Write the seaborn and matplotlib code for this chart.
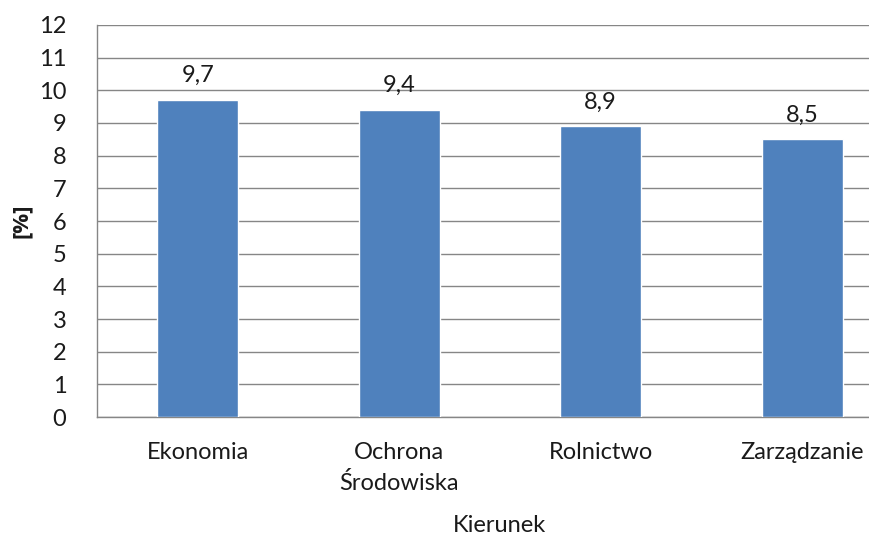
import matplotlib
matplotlib.use("Agg")
import matplotlib.pyplot as plt
import pandas as pd
import seaborn as sns

categories = ["Ekonomia", "Ochrona\nŚrodowiska", "Rolnictwo", "Zarządzanie"]
values = [9.7, 9.4, 8.9, 8.5]
value_labels = ["9,7", "9,4", "8,9", "8,5"]

sns.set_theme(style="white")
plt.rcParams["font.family"] = ["Lato", "DejaVu Sans"]

df = pd.DataFrame({"Kierunek": categories, "val": values})

fig = plt.figure(figsize=(8.7, 5.36), dpi=100)
# plot area runs past the right edge, as in the cropped original
ax = fig.add_axes([97 / 870, (536 - 417) / 536, 806 / 870, 392 / 536])

grid_col = "#868686"
txt_col = "#1a1a1a"
fs = 17

sns.barplot(data=df, x="Kierunek", y="val", color="#4F81BD", width=0.4,
            saturation=1, ax=ax, zorder=3)

ax.set_ylim(0, 12)
ax.set_xlim(-0.5, len(categories) - 0.5)
ax.set_yticks(range(0, 13))
ax.yaxis.grid(True, color=grid_col, linewidth=1)
ax.set_axisbelow(True)

for s in ["top", "right"]:
    ax.spines[s].set_visible(False)
for s in ["left", "bottom"]:
    ax.spines[s].set_color(grid_col)
    ax.spines[s].set_linewidth(1)

# category ticks sit at the boundaries between groups
ax.set_xticks([i - 0.5 for i in range(len(categories) + 1)], minor=False)
ax.set_xticklabels([])
ax.set_xticks(range(len(categories)), minor=True)
ax.set_xticklabels(categories, minor=True, fontsize=fs, color=txt_col,
                   linespacing=1.5)
ax.tick_params(axis="x", which="major", length=8, color=grid_col, width=1)
ax.tick_params(axis="x", which="minor", length=0, pad=18)
ax.tick_params(axis="y", length=8, color=grid_col, width=1, labelsize=fs,
               labelcolor=txt_col, pad=14)

for i, (v, lab) in enumerate(zip(values, value_labels)):
    ax.annotate(lab, (i, v), xytext=(0, 10), textcoords="offset points",
                ha="center", va="bottom", fontsize=fs, color=txt_col)

ax.set_xlabel("Kierunek", fontsize=fs, color=txt_col, labelpad=15)
ax.set_ylabel("[%]", fontsize=16, fontweight="bold", color=txt_col,
              labelpad=5, family=["Open Sans", "DejaVu Sans"])

fig.savefig("out.png", dpi=100)
